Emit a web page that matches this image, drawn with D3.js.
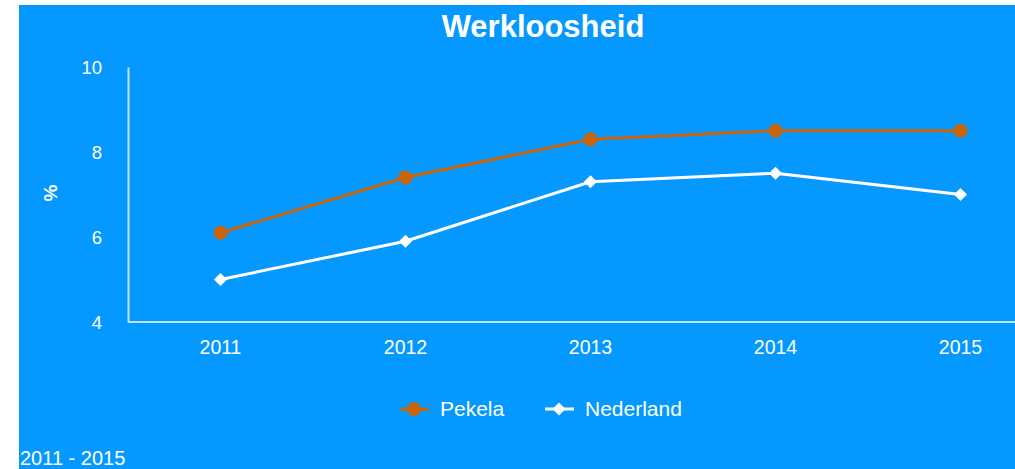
<!DOCTYPE html>
<html><head><meta charset="utf-8">
<script src="https://cdn.jsdelivr.net/npm/d3@7"></script>
<style>body{margin:0;background:#fff;}svg{display:block;}</style>
</head><body>
<svg id="c" width="1015" height="469"></svg>
<script>
const years = ["2011","2012","2013","2014","2015"];
const pekela = [6.1, 7.4, 8.3, 8.5, 8.5];
const nederland = [5.0, 5.9, 7.3, 7.5, 7.0];
const yTicks = [4, 6, 8, 10];

const F = "'Liberation Sans', Arial, sans-serif";
const svg = d3.select("#c");
svg.append("rect").attr("x",19).attr("y",5).attr("width",996).attr("height",464).attr("fill","#0599FF");

const x = d3.scaleBand().domain(years).range([128, 1053]);
const y = d3.scaleLinear().domain([4,10]).range([322, 67]);
const axisCol = "#BFE3FF";

// axes
const ya = svg.append("g").attr("transform","translate(128,0)").call(d3.axisLeft(y).tickValues(yTicks).tickFormat(d3.format("d")).tickSize(0).tickPadding(26));
ya.select(".domain").attr("stroke",axisCol).attr("stroke-width",2);
ya.selectAll("text").attr("fill","#fff").style("font-size","18.5px").style("font-family",F).attr("dy","0.35em");
const xa = svg.append("g").attr("transform","translate(0,322)").call(d3.axisBottom(x).tickSize(0).tickPadding(18));
xa.select(".domain").attr("stroke",axisCol).attr("stroke-width",2).attr("d","M128,0H1015");
xa.selectAll("text").attr("fill","#fff").style("font-size","19.5px").style("font-family",F);

const cx = d => x(d) + x.bandwidth()/2;
const line = d3.line().x((d,i)=>cx(years[i])).y(d=>y(d));
const pcol = "#C9650B";
svg.append("path").datum(nederland).attr("d",line).attr("fill","none").attr("stroke","#fff").attr("stroke-width",3);
svg.append("path").datum(pekela).attr("d",line).attr("fill","none").attr("stroke",pcol).attr("stroke-width",3);
const diamond = d3.symbol().type(d3.symbolDiamond2).size(110);
svg.selectAll(".nd").data(nederland).join("path").attr("transform",(d,i)=>`translate(${cx(years[i])},${y(d)})`).attr("d",diamond).attr("fill","#fff");
svg.selectAll(".pk").data(pekela).join("circle").attr("cx",(d,i)=>cx(years[i])).attr("cy",d=>y(d)).attr("r",7).attr("fill",pcol);

// title
svg.append("text").attr("x",543).attr("y",37).attr("text-anchor","middle").attr("fill","#fff").style("font-size","31px").style("font-weight","bold").style("font-family",F).text("Werkloosheid");
// y label
svg.append("text").attr("transform","translate(57,193) rotate(-90)").attr("text-anchor","middle").attr("fill","#fff").style("font-size","19px").style("font-weight","bold").style("font-family",F).text("%");

// legend
const lg = svg.append("g").style("font-family",F).style("font-size","21px");
lg.append("line").attr("x1",400).attr("x2",429).attr("y1",409).attr("y2",409).attr("stroke",pcol).attr("stroke-width",3);
lg.append("circle").attr("cx",414).attr("cy",409).attr("r",7).attr("fill",pcol);
lg.append("text").attr("x",440).attr("y",416).attr("fill","#fff").text("Pekela");
lg.append("line").attr("x1",545).attr("x2",574).attr("y1",409).attr("y2",409).attr("stroke","#fff").attr("stroke-width",3);
lg.append("path").attr("transform","translate(559,409)").attr("d",diamond).attr("fill","#fff");
lg.append("text").attr("x",585).attr("y",416).attr("fill","#fff").text("Nederland");

// footnote
svg.append("text").attr("x",20).attr("y",465).attr("fill","#fff").style("font-size","20px").style("font-family",F).text("2011 - 2015");
</script>
</body></html>
